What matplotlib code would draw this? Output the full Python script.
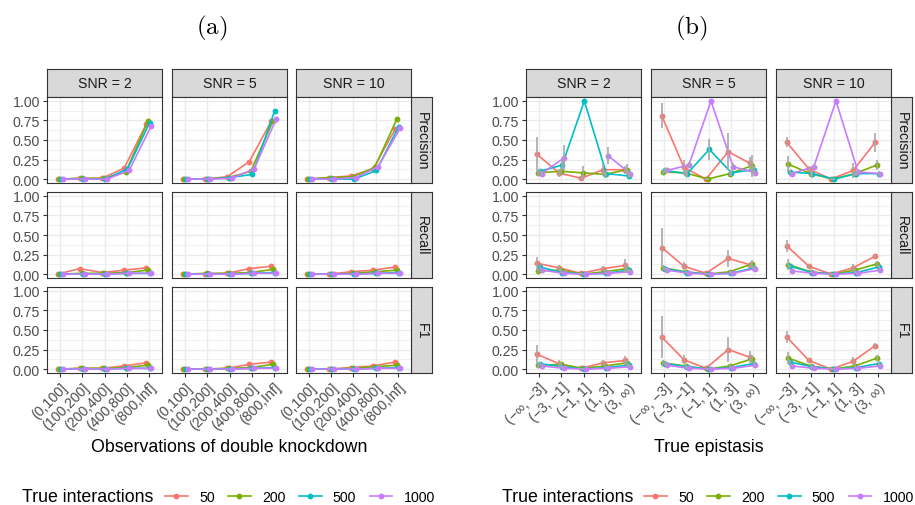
import numpy as np
import matplotlib.pyplot as plt
from matplotlib.lines import Line2D

plt.rcParams['font.family'] = ['Liberation Sans', 'DejaVu Sans']
plt.rcParams['mathtext.fontset'] = 'cm'

snr_levels = [2, 5, 10]
metrics = ["Precision", "Recall", "F1"]
true_interactions = ["50", "200", "500", "1000"]
colors = ["#F8766D", "#7CAE00", "#00BFC4", "#C77CFF"]

obs_bins = ["(0,100]", "(100,200]", "(200,400]", "(400,800]", "(800,Inf]"]
epi_bins = ["(\u2212\u221e, \u22123]", "(\u22123, \u22121]", "(\u22121, 1]", "(1, 3]", "(3, \u221e)"]

# values are [snr][true interactions][bin]
obs_precision = [
    [[0.00, 0.01, 0.01, 0.14, 0.70], [0.00, 0.01, 0.01, 0.09, 0.74],
     [0.00, 0.00, 0.00, 0.13, 0.72], [0.00, 0.00, 0.00, 0.11, 0.68]],
    [[0.00, 0.00, 0.03, 0.22, 0.74], [0.00, 0.00, 0.02, 0.10, 0.74],
     [0.00, 0.00, 0.02, 0.06, 0.87], [0.00, 0.00, 0.01, 0.13, 0.77]],
    [[0.00, 0.02, 0.04, 0.13, 0.64], [0.00, 0.02, 0.03, 0.15, 0.77],
     [0.00, 0.00, 0.00, 0.11, 0.67], [0.00, 0.00, 0.02, 0.16, 0.65]],
]
obs_recall = [
    [[0.00, 0.07, 0.02, 0.05, 0.08], [0.00, 0.01, 0.01, 0.02, 0.05],
     [0.00, 0.00, 0.00, 0.01, 0.01], [0.00, 0.00, 0.00, 0.01, 0.01]],
    [[0.00, 0.00, 0.01, 0.07, 0.10], [0.00, 0.01, 0.01, 0.02, 0.06],
     [0.00, 0.00, 0.00, 0.01, 0.02], [0.00, 0.00, 0.00, 0.01, 0.01]],
    [[0.00, 0.00, 0.03, 0.05, 0.09], [0.00, 0.00, 0.01, 0.03, 0.05],
     [0.00, 0.00, 0.00, 0.01, 0.02], [0.00, 0.00, 0.00, 0.01, 0.01]],
]
obs_f1 = [
    [[0.00, 0.01, 0.01, 0.04, 0.08], [0.00, 0.01, 0.01, 0.02, 0.05],
     [0.00, 0.00, 0.00, 0.01, 0.01], [0.00, 0.00, 0.00, 0.01, 0.01]],
    [[0.00, 0.00, 0.01, 0.06, 0.09], [0.00, 0.00, 0.01, 0.02, 0.06],
     [0.00, 0.00, 0.00, 0.01, 0.02], [0.00, 0.00, 0.00, 0.01, 0.01]],
    [[0.00, 0.00, 0.02, 0.04, 0.09], [0.00, 0.00, 0.01, 0.03, 0.05],
     [0.00, 0.00, 0.00, 0.01, 0.02], [0.00, 0.00, 0.00, 0.01, 0.01]],
]

nan = np.nan
epi_precision = [
    [[0.32, 0.08, 0.01, 0.12, 0.12], [0.08, 0.10, 0.08, 0.06, 0.12],
     [0.10, 0.18, 1.00, 0.07, 0.04], [0.07, 0.27, nan, 0.30, 0.07]],
    [[0.81, 0.15, 0.00, 0.35, 0.20], [0.09, 0.08, 0.00, 0.07, 0.17],
     [0.11, 0.07, 0.38, 0.08, 0.12], [0.11, 0.18, 1.00, 0.16, 0.08]],
    [[0.47, 0.13, 0.00, 0.11, 0.47], [0.19, 0.07, 0.00, 0.07, 0.18],
     [0.09, 0.07, 0.00, 0.07, 0.07], [0.07, 0.16, 1.00, 0.09, 0.07]],
]
epi_recall = [
    [[0.14, 0.08, 0.01, 0.07, 0.11], [0.04, 0.05, 0.00, 0.03, 0.07],
     [0.09, 0.02, 0.00, 0.01, 0.05], [0.05, 0.01, 0.00, 0.01, 0.03]],
    [[0.34, 0.10, 0.01, 0.20, 0.12], [0.08, 0.03, 0.00, 0.03, 0.13],
     [0.07, 0.02, 0.00, 0.01, 0.08], [0.05, 0.01, 0.00, 0.01, 0.07]],
    [[0.36, 0.10, 0.00, 0.08, 0.23], [0.12, 0.03, 0.00, 0.05, 0.13],
     [0.10, 0.02, 0.00, 0.02, 0.09], [0.04, 0.01, 0.00, 0.01, 0.05]],
]
epi_f1 = [
    [[0.19, 0.07, 0.01, 0.08, 0.11], [0.05, 0.06, 0.01, 0.04, 0.08],
     [0.07, 0.03, 0.00, 0.02, 0.05], [0.04, 0.01, 0.00, 0.01, 0.03]],
    [[0.41, 0.12, 0.01, 0.25, 0.15], [0.08, 0.04, 0.00, 0.04, 0.13],
     [0.07, 0.03, 0.00, 0.02, 0.07], [0.05, 0.01, 0.00, 0.01, 0.05]],
    [[0.41, 0.11, 0.00, 0.10, 0.30], [0.14, 0.04, 0.00, 0.04, 0.14],
     [0.09, 0.03, 0.00, 0.02, 0.07], [0.04, 0.01, 0.00, 0.01, 0.04]],
]

# half widths of the error bars, same layout
epi_precision_err = [
    [[0.22, 0.05, 0.03, 0.07, 0.05], [0.04, 0.04, 0.09, 0.04, 0.07],
     [0.03, 0.06, 0.00, 0.03, 0.02], [0.03, 0.16, nan, 0.11, 0.04]],
    [[0.16, 0.10, 0.01, 0.24, 0.08], [0.03, 0.04, 0.01, 0.03, 0.14],
     [0.03, 0.04, 0.13, 0.04, 0.05], [0.03, 0.04, 0.00, 0.04, 0.03]],
    [[0.065, 0.04, 0.01, 0.09, 0.12], [0.10, 0.04, 0.01, 0.03, 0.07],
     [0.03, 0.03, 0.01, 0.03, 0.03], [0.02, 0.03, 0.00, 0.03, 0.02]],
]
epi_recall_err = [
    [[0.08, 0.04, 0.01, 0.03, 0.08], [0.03, 0.03, 0.01, 0.02, 0.04],
     [0.02, 0.01, 0.00, 0.01, 0.02], [0.02, 0.01, 0.00, 0.01, 0.02]],
    [[0.25, 0.05, 0.01, 0.11, 0.04], [0.03, 0.02, 0.01, 0.02, 0.05],
     [0.02, 0.01, 0.00, 0.01, 0.02], [0.02, 0.01, 0.00, 0.01, 0.02]],
    [[0.08, 0.03, 0.01, 0.05, 0.02], [0.07, 0.02, 0.01, 0.03, 0.04],
     [0.02, 0.01, 0.00, 0.01, 0.02], [0.02, 0.01, 0.00, 0.01, 0.02]],
]
epi_f1_err = [
    [[0.12, 0.04, 0.01, 0.03, 0.06], [0.03, 0.03, 0.01, 0.02, 0.04],
     [0.02, 0.01, 0.00, 0.01, 0.02], [0.02, 0.01, 0.00, 0.01, 0.02]],
    [[0.27, 0.06, 0.01, 0.16, 0.08], [0.03, 0.02, 0.01, 0.02, 0.05],
     [0.02, 0.01, 0.00, 0.01, 0.02], [0.02, 0.01, 0.00, 0.01, 0.02]],
    [[0.08, 0.03, 0.01, 0.05, 0.03], [0.08, 0.02, 0.01, 0.02, 0.04],
     [0.02, 0.01, 0.00, 0.01, 0.02], [0.02, 0.01, 0.00, 0.01, 0.02]],
]

W, H = 915, 506
fig = plt.figure(figsize=(W / 100, H / 100), dpi=100)
fig.patch.set_facecolor("white")


def px_axes(left, top, right, bottom):
    return fig.add_axes([left / W, 1 - bottom / H, (right - left) / W, (bottom - top) / H])


def strip(left, top, right, bottom, label, vertical=False):
    ax = px_axes(left, top, right, bottom)
    ax.set_facecolor("#D9D9D9")
    ax.set_xticks([])
    ax.set_yticks([])
    for s in ax.spines.values():
        s.set_color("#333333")
        s.set_linewidth(0.8)
    ax.text(0.5, 0.5, label, transform=ax.transAxes, ha="center", va="center",
            fontsize=10.2, color="#1A1A1A", rotation=-90 if vertical else 0)


rows = [(98, 184), (193, 279), (288, 374)]
gray = "#4D4D4D"


def draw_block(cols, bins, values, errors, xtitle, tag, strip_right):
    x = np.arange(1, len(bins) + 1)
    offsets = (np.arange(len(true_interactions)) - 1.5) * 0.3 / len(true_interactions)
    for j, (l, r) in enumerate(cols):
        strip(l, 70, r, 98, f"SNR = {snr_levels[j]}")
    for i, (t, b) in enumerate(rows):
        strip(strip_right[0], t, strip_right[1], b, metrics[i], vertical=True)
        for j, (l, r) in enumerate(cols):
            ax = px_axes(l, t, r, b)
            ax.set_xlim(0.4, 5.6)
            ax.set_ylim(-0.05, 1.05)
            ax.set_yticks([0, 0.25, 0.5, 0.75, 1.0])
            ax.set_yticks([0.125, 0.375, 0.625, 0.875], minor=True)
            ax.set_xticks(x)
            ax.grid(which="major", color="#EBEBEB", linewidth=1.0)
            ax.grid(which="minor", axis="y", color="#EBEBEB", linewidth=0.5)
            ax.set_axisbelow(True)
            for s in ax.spines.values():
                s.set_color("#333333")
                s.set_linewidth(0.8)
            ax.tick_params(which="minor", length=0)
            ax.tick_params(which="major", color="#333333", length=3, width=0.8,
                           labelsize=10.2, labelcolor=gray, pad=2)
            if j == 0:
                ax.set_yticklabels(["0.00", "0.25", "0.50", "0.75", "1.00"])
            else:
                ax.tick_params(axis="y", length=0, labelleft=False)
            if i == 2:
                ax.set_xticklabels(bins, rotation=45, ha="right", va="top",
                                   rotation_mode="anchor")
            else:
                ax.tick_params(axis="x", length=0, labelbottom=False)
            for g in range(len(true_interactions)):
                vals = np.array(values[i][j][g], dtype=float)
                ax.plot(x + offsets[g], vals, color=colors[g], lw=1.2, marker="o",
                        ms=4.2, mew=0, zorder=3)
                if errors is not None:
                    e = np.array(errors[i][j][g], dtype=float)
                    ok = ~np.isnan(vals) & (e > 0)
                    ax.vlines((x + offsets[g])[ok], (vals - e)[ok], (vals + e)[ok],
                              color="#A8A8A8", lw=1.4, alpha=0.85, zorder=4)
    cx = (cols[0][0] + cols[-1][1]) / 2
    fig.text(cx / W, 1 - 448 / H, xtitle, ha="center", va="center", fontsize=12.8)
    fig.text((cx - 17) / W, 1 - 28 / H, tag, ha="center", va="center", fontsize=18)


draw_block([(47, 162), (172, 287), (296, 411)], obs_bins,
           [obs_precision, obs_recall, obs_f1], None,
           "Observations of double knockdown", r"$\mathrm{(a)}$", (411, 432))
draw_block([(526, 641), (651, 766), (776, 891)], epi_bins,
           [epi_precision, epi_recall, epi_f1],
           [epi_precision_err, epi_recall_err, epi_f1_err],
           "True epistasis", r"$\mathrm{(b)}$", (891, 912))

# legends at the bottom
handles = [Line2D([], [], color=c, lw=1.2, marker="o", ms=4.2, mew=0) for c in colors]
for title_x, leg_x in [(22, 165), (502, 644)]:
    fig.text(title_x / W, 1 - 498 / H, "True interactions", ha="left", va="center",
             fontsize=12.8)
    fig.legend(handles, true_interactions, loc="center left",
               bbox_to_anchor=(leg_x / W, 1 - 498 / H), ncol=4, frameon=False,
               fontsize=10.2, handlelength=1.6, handletextpad=0.8,
               columnspacing=0.95, borderpad=0, borderaxespad=0)

fig.savefig("out.png", dpi=100)
